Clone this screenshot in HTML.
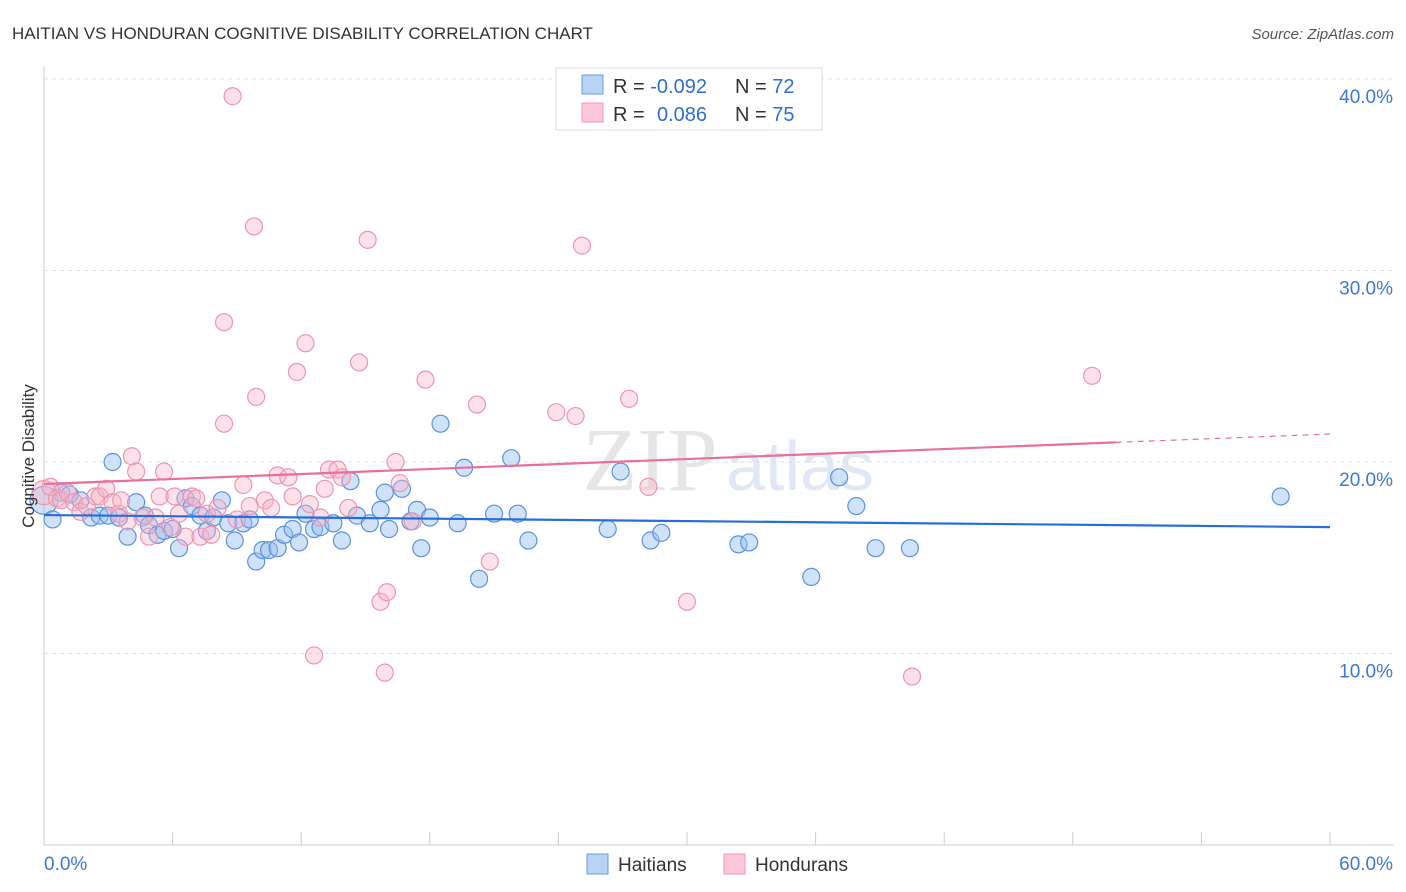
<!DOCTYPE html>
<html><head><meta charset="utf-8"><style>
body{margin:0;background:#fff;font-family:"Liberation Sans",sans-serif}
svg{display:block}
</style></head><body>
<svg id="chart" width="1406" height="892">
<text x="12" y="39" font-size="17" fill="#333">HAITIAN VS HONDURAN COGNITIVE DISABILITY CORRELATION CHART</text>
<text x="1394" y="39" font-size="15" fill="#555" text-anchor="end" font-style="italic">Source: ZipAtlas.com</text>
<text x="650" y="490" font-size="90" fill="#e6e6e6" font-family="Liberation Serif,serif" text-anchor="middle">ZIP</text>
<text x="800" y="490" font-size="70" fill="#dfe8f4" text-anchor="middle">atlas</text>
<g id="grid"></g>
<g id="pts"></g>
<g id="lines"></g>
<text transform="translate(34,456) rotate(-90)" font-size="17" fill="#333" text-anchor="middle">Cognitive Disability</text>
<g>
<rect x="556" y="68" width="266" height="62" fill="#fff" stroke="#ddd"/>
<rect x="582" y="75" width="21" height="19" fill="#b9d3f5" stroke="#6a9ee0"/>
<rect x="582" y="103" width="21" height="19" fill="#fcc8d8" stroke="#ef9ab5"/>
<text x="613" y="93" font-size="20" fill="#333">R = <tspan fill="#2e6fd0">-0.092</tspan><tspan x="735">N = </tspan><tspan fill="#2e6fd0">72</tspan></text>
<text x="613" y="121" font-size="20" fill="#333">R = <tspan x="657" fill="#2e6fd0">0.086</tspan><tspan x="735">N = </tspan><tspan fill="#2e6fd0">75</tspan></text>
</g>
<g>
<rect x="587" y="854" width="21" height="20" fill="#b9d3f5" stroke="#6a9ee0"/>
<text x="618" y="871" font-size="19" fill="#333">Haitians</text>
<rect x="724" y="854" width="21" height="20" fill="#fcc8d8" stroke="#ef9ab5"/>
<text x="755" y="871" font-size="19" fill="#333">Hondurans</text>
</g>
</svg>
<script>
const yTicks=[10,20,30,40];
const xTickLabels=["0.0%","60.0%"];
const blueX=[0,0.4,0.8,1.2,1.7,2.2,2.6,3.0,3.2,3.5,3.9,4.3,4.7,4.9,5.3,5.6,6.0,6.3,6.6,6.9,7.3,7.6,7.9,8.3,8.6,8.9,9.3,9.6,9.9,10.2,10.5,10.9,11.2,11.6,11.9,12.2,12.6,12.9,13.5,13.9,14.3,14.6,15.2,15.7,15.9,16.1,16.7,17.1,17.4,17.6,18.0,18.5,19.3,19.6,20.3,21.0,21.8,22.1,22.6,26.3,26.9,28.3,28.8,32.4,32.9,35.8,37.1,37.9,38.8,40.4,57.7];
const blueY=[18.0,17.0,18.4,18.3,18.0,17.1,17.2,17.2,20.0,17.1,16.1,17.9,17.2,16.7,16.2,16.4,16.5,15.5,18.1,17.7,17.2,16.4,17.1,18.0,16.8,15.9,16.8,17.0,14.8,15.4,15.4,15.5,16.2,16.5,15.8,17.3,16.5,16.6,16.8,15.9,19.0,17.2,16.8,17.5,18.4,16.5,18.6,16.9,17.5,15.5,17.1,22.0,16.8,19.7,13.9,17.3,20.2,17.3,15.9,16.5,19.5,15.9,16.3,15.7,15.8,14.0,19.2,17.7,15.5,15.5,18.2];
const pinkX=[0,0.3,0.6,0.8,1.1,1.4,1.7,2.0,2.4,2.6,2.9,3.2,3.5,3.6,3.9,4.1,4.3,4.6,4.9,5.2,5.4,5.6,5.9,6.1,6.3,6.6,6.9,7.1,7.3,7.6,7.8,8.1,8.4,8.4,8.8,9.0,9.3,9.6,9.8,9.9,10.3,10.6,10.9,11.4,11.6,11.8,12.2,12.4,12.6,12.9,13.1,13.3,13.7,13.9,14.2,14.7,15.1,15.7,15.9,16.0,16.4,16.6,17.2,17.8,20.2,20.8,23.9,24.8,25.1,27.3,28.2,30.0,40.5,48.9];
const pinkY=[18.4,18.7,18.1,18.0,18.4,17.9,17.4,17.7,18.2,18.2,18.6,17.9,17.3,18.0,16.9,20.3,19.5,17.1,16.1,17.1,18.2,19.5,16.6,18.2,17.3,16.1,18.2,18.1,16.1,17.3,16.2,17.6,27.3,22.0,39.1,17.0,18.8,17.7,32.3,23.4,18.0,17.6,19.3,19.2,18.2,24.7,26.2,17.8,9.9,17.1,18.6,19.6,19.6,19.2,17.6,25.2,31.6,12.7,9.0,13.2,20.0,18.9,16.9,24.3,23.0,14.8,22.6,22.4,31.3,23.3,18.7,12.7,8.8,24.5];
const blueLine=[17.23,16.6], pinkLine=[18.85,21.46];
const X=v=>44+v/60*1286, Y=v=>845-v*19.15;
const NS="http://www.w3.org/2000/svg";
function mk(t,a,p){const e=document.createElementNS(NS,t);for(const k in a)e.setAttribute(k,a[k]);p.appendChild(e);return e;}
const g=document.getElementById('grid');
mk('line',{x1:44,y1:845,x2:1394,y2:845,stroke:'#ccc'},g);
mk('line',{x1:44,y1:66,x2:44,y2:845,stroke:'#ccc'},g);
for(let i=0;i<=10;i++){const l=mk('line',{x1:X(i*6),y1:832,x2:X(i*6),y2:845,stroke:'#ccc'},g);

}
yTicks.forEach(v=>{const l=mk('line',{x1:44,y1:Y(v),x2:1394,y2:Y(v),stroke:'#e0e0e0','stroke-dasharray':'4,4'},g);


const t=mk('text',{x:1393,y:Y(v)+24,'font-size':19,fill:'#3c78d8','text-anchor':'end'},g);t.textContent=v.toFixed(1)+'%';

});
xTickLabels.forEach((s,i)=>{const t=mk('text',{x:i?1393:44,y:870,'font-size':19,fill:'#3c78d8','text-anchor':i?'end':'start'},g);t.textContent=s;

});
const p=document.getElementById('pts');
blueX.forEach((x,i)=>{const c=mk('circle',{cx:X(x),cy:Y(blueY[i]),r:i==0?14:8.5,fill:'rgba(150,190,240,0.45)',stroke:'#5a92e0','stroke-width':1.2},p);

});
pinkX.forEach((x,i)=>{const c=mk('circle',{cx:X(x),cy:Y(pinkY[i]),r:i==0?12:8.5,fill:'rgba(248,180,200,0.4)',stroke:'#ee95b0','stroke-width':1.2},p);

});
const L=document.getElementById('lines');
let a=mk('line',{x1:X(0),y1:Y(blueLine[0]),x2:X(60),y2:Y(blueLine[1]),stroke:'#2a6dd6','stroke-width':2.2},L);


const pe=v=>pinkLine[0]+(pinkLine[1]-pinkLine[0])*v/60;
let b=mk('line',{x1:X(0),y1:Y(pe(0)),x2:X(50),y2:Y(pe(50)),stroke:'#e8709a','stroke-width':2.2},L);


let c=mk('line',{x1:X(50),y1:Y(pe(50)),x2:X(60),y2:Y(pe(60)),stroke:'#e8709a','stroke-width':1.2,'stroke-dasharray':'6,5'},L);


</script>
</body></html>
